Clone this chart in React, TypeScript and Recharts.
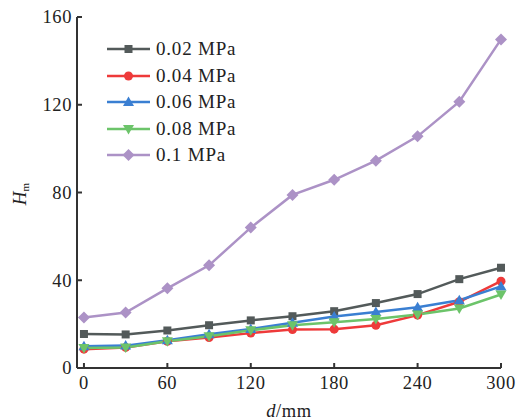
import { LineChart, Line, XAxis, YAxis } from 'recharts';

const distance = [0, 30, 60, 90, 120, 150, 180, 210, 240, 270, 300];
const hm002 = [15.5, 15.3, 17.1, 19.5, 21.7, 23.6, 25.9, 29.6, 33.7, 40.5, 45.7];
const hm004 = [8.6, 9.4, 12.2, 13.9, 15.9, 17.5, 17.7, 19.5, 24.1, 30.2, 39.6];
const hm006 = [9.9, 10.2, 12.6, 15.4, 17.8, 20.6, 23.5, 25.5, 27.7, 30.9, 37.2];
const hm008 = [9.1, 9.3, 12.2, 14.5, 17.2, 19.5, 20.9, 22.3, 24.4, 27.1, 33.5];
const hm010 = [23.0, 25.3, 36.3, 46.8, 64.0, 78.9, 85.8, 94.5, 105.6, 121.4, 149.8];
const xTicks = [0, 60, 120, 180, 240, 300];
const yTicks = [0, 40, 80, 120, 160];

const series = [
  { key: 'p002', name: '0.02 MPa', values: hm002, color: '#535a5a', shape: 'square' },
  { key: 'p004', name: '0.04 MPa', values: hm004, color: '#ee3a3a', shape: 'circle' },
  { key: 'p006', name: '0.06 MPa', values: hm006, color: '#3a7fd2', shape: 'triangle' },
  { key: 'p008', name: '0.08 MPa', values: hm008, color: '#6cc46a', shape: 'triangleDown' },
  { key: 'p010', name: '0.1 MPa', values: hm010, color: '#ac92c6', shape: 'diamond' },
];

const data = distance.map((d, i) => {
  const row: Record<string, number> = { d };
  series.forEach(s => { row[s.key] = s.values[i]; });
  return row;
});

const FONT = "'Liberation Serif', 'Times New Roman', serif";
const AXIS = '#333';

function Marker({ cx, cy, shape, color }: { cx: number; cy: number; shape: string; color: string }) {
  if (shape === 'square') return <rect x={cx - 4} y={cy - 4} width={8} height={8} fill={color} />;
  if (shape === 'circle') return <circle cx={cx} cy={cy} r={4.5} fill={color} />;
  if (shape === 'triangle') return <polygon points={`${cx},${cy - 5.5} ${cx + 5.5},${cy + 4} ${cx - 5.5},${cy + 4}`} fill={color} />;
  if (shape === 'triangleDown') return <polygon points={`${cx},${cy + 5.5} ${cx + 5.5},${cy - 4} ${cx - 5.5},${cy - 4}`} fill={color} />;
  return <polygon points={`${cx},${cy - 6} ${cx + 6},${cy} ${cx},${cy + 6} ${cx - 6},${cy}`} fill={color} />;
}

const XTick = ({ x, y, payload }: any) => (
  <g>
    <line x1={x} x2={x} y1={y - 8} y2={y - 13} stroke={AXIS} strokeWidth={2} />
    <text x={x} y={y} dy="0.71em" textAnchor="middle" fontSize={18.5} letterSpacing={0.6} fontFamily={FONT} fill="#222">{payload.value}</text>
  </g>
);

const YTick = ({ x, y, payload }: any) => (
  <g>
    <line x1={x + 5} x2={x + 10} y1={y} y2={y} stroke={AXIS} strokeWidth={2} />
    <text x={x} y={y} dy="0.35em" textAnchor="end" fontSize={18.5} letterSpacing={0.6} fontFamily={FONT} fill="#222">{payload.value}</text>
  </g>
);

function LegendBox() {
  return (
    <div style={{ position: 'absolute', left: 105, top: 36 }}>
      {series.map(s => (
        <div key={s.key} style={{ display: 'flex', alignItems: 'center', height: 26.5 }}>
          <svg width={48} height={20}>
            <line x1={2} x2={45} y1={10} y2={10} stroke={s.color} strokeWidth={2.5} />
            <Marker cx={23.5} cy={10} shape={s.shape} color={s.color} />
          </svg>
          <span style={{ fontFamily: FONT, fontSize: 19, letterSpacing: 0.8, color: '#222', marginLeft: 3 }}>{s.name}</span>
        </div>
      ))}
    </div>
  );
}

export default function App() {
  return (
    <div style={{ position: 'fixed', left: 0, top: 0, width: 521, height: 420, background: '#fff' }}>
      <LineChart width={521} height={420} data={data} margin={{ top: 17, right: 20, bottom: 0, left: 0 }}>
        <XAxis dataKey="d" type="number" domain={[-5, 300]} ticks={xTicks} height={52}
          axisLine={{ stroke: AXIS, strokeWidth: 2 }} tickLine={false} tickSize={0} tickMargin={8} tick={<XTick />} />
        <YAxis type="number" domain={[0, 160]} ticks={yTicks} width={77}
          axisLine={{ stroke: AXIS, strokeWidth: 2 }} tickLine={false} tickSize={0} tickMargin={5} tick={<YTick />} />
        {series.map(s => (
          <Line key={s.key} dataKey={s.key} name={s.name} stroke={s.color} strokeWidth={2.5}
            isAnimationActive={false}
            dot={(p: any) => <Marker key={`${s.key}-${p.index}`} cx={p.cx} cy={p.cy} shape={s.shape} color={s.color} />} />
        ))}
        <text x={289} y={417} textAnchor="middle" fontSize={18.5} letterSpacing={0.6} fontFamily={FONT} fill="#222">
          <tspan fontStyle="italic">d</tspan>/mm
        </text>
        <text x={26} y={194} transform="rotate(-90, 26, 194)" textAnchor="middle" fontSize={19} fontFamily={FONT} fill="#222">
          <tspan fontStyle="italic">H</tspan><tspan fontSize={11} dy={3}>m</tspan>
        </text>
      </LineChart>
      <LegendBox />
    </div>
  );
}
